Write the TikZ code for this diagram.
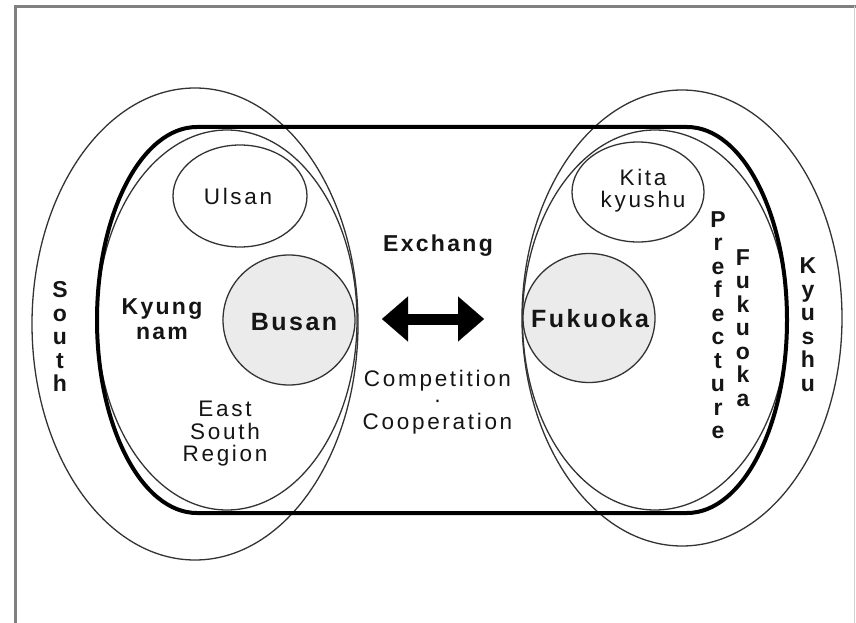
\documentclass[tikz,border=0pt]{standalone}
\usepackage{fontspec}
\setmainfont{Liberation Sans}
\newfontfamily\labr{Liberation Sans}[LetterSpace=12]
\newfontfamily\labb{Liberation Sans}[LetterSpace=10]
\newfontfamily\labv{Liberation Sans}
\usetikzlibrary{shapes.geometric,arrows.meta}
\definecolor{linegray}{HTML}{333333}
\definecolor{fillgray}{HTML}{EBEBEB}
\definecolor{framegray}{HTML}{808080}
\definecolor{edgegray}{HTML}{D0D0D0}
\definecolor{ink}{HTML}{151515}
\begin{document}
\begin{tikzpicture}[x=1pt,y=-1pt,
  region/.style={ellipse,draw=linegray,line width=1.3pt,inner sep=0pt},
  lab/.style={inner sep=0pt,text=ink,align=center},
  reg/.style={lab,font=\labr\fontsize{22.5}{22.5}\selectfont},
  bld/.style={lab,font=\labb\bfseries\fontsize{23}{25}\selectfont},
  big/.style={lab,font=\labb\bfseries\fontsize{25}{27}\selectfont},
  vert/.style={lab,font=\labv\bfseries\fontsize{23}{23.5}\selectfont},
  outline/.style={draw=black,line width=4pt,line join=round}]
\useasboundingbox (0,0) rectangle (856,623);
\fill[white] (0,0) rectangle (856,623);
% frame
\draw[framegray,line width=2.5pt] (15.5,623) -- (15.5,6.5) -- (856,6.5);
\draw[edgegray,line width=1.2pt] (854.5,6.5) -- (854.5,623);
% filled city circles
\node[region,fill=fillgray,minimum width=132pt,minimum height=130pt] (busan) at (289,320) {};
\node[region,fill=fillgray,minimum width=132pt,minimum height=129pt] (fukuoka) at (589,318) {};
% regions
\node[region,minimum width=326pt,minimum height=472pt] (south) at (195,324) {};
\node[region,minimum width=260pt,minimum height=380pt] (kyungnam) at (227,320) {};
\node[region,minimum width=134pt,minimum height=102pt] (ulsan) at (240,196) {};
\node[region,minimum width=320pt,minimum height=456pt] (kyushu) at (682,318) {};
\node[region,minimum width=265pt,minimum height=380pt] (fpref) at (655,320) {};
\node[region,minimum width=132pt,minimum height=100pt] (kita) at (638,192) {};
% thick outline
\draw[outline] (197,127) -- (687,127)
  arc[start angle=-90,end angle=90,x radius=100,y radius=193]
  -- (197,513)
  arc[start angle=90,end angle=270,x radius=100,y radius=193] -- cycle;
% exchange arrow
\coordinate (al) at (382,319);
\coordinate (ar) at (484,319);
\draw[line width=11pt,
  {Triangle[length=26pt,width=45pt,line width=0.1pt]}-{Triangle[length=26pt,width=45pt,line width=0.1pt]}]
  (al) -- (ar);
% labels
\node[big] (tbusan) at (294,322.5) {Busan};
\node[big] (tfuk) at (590,319) {Fukuoka};
\node[reg] (tulsan) at (238,196) {Ulsan};
\node[bld,font=\labb\bfseries\fontsize{23}{25}\selectfont] (tkyung) at (162,319) {Kyung\\nam};
\node[reg] (tesr) at (225,434) {East\\South\\Region};
\node[reg,font=\labr\fontsize{22.5}{22}\selectfont] (tkita) at (643,191) {Kita\\kyushu};
\node[bld] (texch) at (438,246) {Exchang};
\node[reg,font=\labr\fontsize{22.5}{21.5}\selectfont] (tcomp) at (437.5,402) {Competition\\\textperiodcentered\\Cooperation};
\node[vert] (tsouth) at (60,336.5) {S\\o\\u\\t\\h};
\node[vert] (tpref) at (718,325) {P\\r\\e\\f\\e\\c\\t\\u\\r\\e};
\node[vert] (tfukv) at (743,328) {F\\u\\k\\u\\o\\k\\a};
\node[vert] (tkyu) at (808,324.5) {K\\y\\u\\s\\h\\u};
\end{tikzpicture}
\end{document}
